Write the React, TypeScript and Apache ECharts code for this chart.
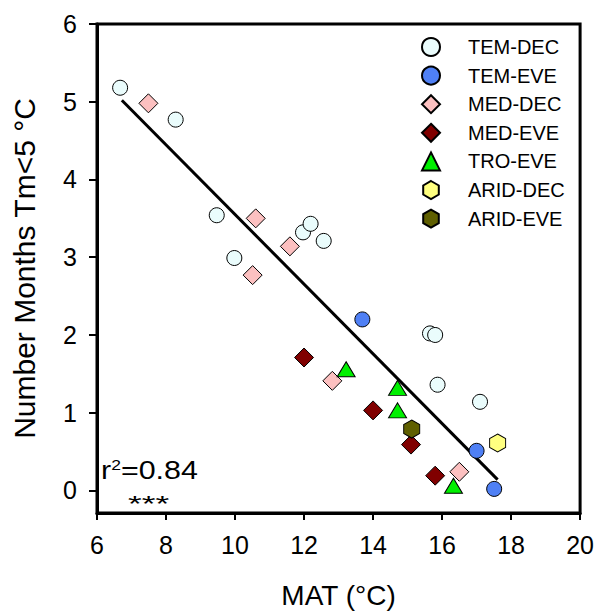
import React, { useEffect, useRef } from "react";
import * as echarts from "echarts";

const temDec: number[][] = [[6.67, 5.18], [8.28, 4.77], [9.47, 3.54], [9.98, 2.99], [11.97, 3.32], [12.19, 3.43], [12.57, 3.21], [15.65, 2.02], [15.8, 2.0], [15.87, 1.36], [17.1, 1.14]];
const temEve: number[][] = [[13.69, 2.2], [17.0, 0.51], [17.51, 0.02]];
const medDec: number[][] = [[7.49, 4.98], [10.6, 3.5], [10.51, 2.77], [11.59, 3.14], [12.82, 1.41], [16.5, 0.24]];
const medEve: number[][] = [[12.0, 1.71], [14.0, 1.03], [15.1, 0.59], [15.8, 0.19]];
const troEve: number[][] = [[13.22, 1.56], [14.71, 1.32], [14.71, 1.03], [16.33, 0.06]];
const aridDec: number[][] = [[17.61, 0.61]];
const aridEve: number[][] = [[15.12, 0.79]];
const fitLine: number[][] = [[6.72, 5.02], [17.61, 0.14]];
const yTicks = [0, 1, 2, 3, 4, 5, 6];
const xTicks = [6, 8, 10, 12, 14, 16, 18, 20];

const hex = "path://M0,-1 L0.866,-0.5 L0.866,0.5 L0,1 L-0.866,0.5 L-0.866,-0.5 Z";
const FONT = "Liberation Sans, Arial, sans-serif";

export default function App() {
  const ref = useRef<HTMLDivElement>(null);
  useEffect(() => {
    if (!ref.current) return;
    const chart = echarts.init(ref.current, null, { renderer: "svg" });
    const sc = (name: string, data: number[][], symbol: string, size: any, color: string) => ({
      name,
      type: "scatter",
      data,
      symbol,
      symbolSize: size,
      itemStyle: { color, borderColor: "#000", borderWidth: 1, opacity: 1 },
      z: 3,
    });
    chart.setOption({
      animation: false,
      grid: { left: 97, top: 24, right: 16, bottom: 102, show: true, borderColor: "#000", borderWidth: 3, backgroundColor: "transparent" },
      xAxis: {
        type: "value",
        min: 6,
        max: 20,
        interval: 2,
        name: "MAT (°C)",
        nameLocation: "middle",
        nameGap: 68,
        nameTextStyle: { fontFamily: FONT, fontSize: 28, color: "#000" },
        axisLine: { onZero: false, lineStyle: { color: "#000", width: 3 } },
        axisTick: { length: 7, lineStyle: { color: "#000", width: 2 } },
        axisLabel: { fontFamily: FONT, fontSize: 25, color: "#000", margin: 19, customValues: xTicks },
        splitLine: { show: false },
      },
      yAxis: {
        type: "value",
        min: -0.29,
        max: 6,
        name: "Number Months Tm<5 °C",
        nameLocation: "middle",
        nameGap: 58,
        nameTextStyle: { fontFamily: FONT, fontSize: 30, color: "#000" },
        axisLine: { onZero: false, lineStyle: { color: "#000", width: 3 } },
        axisTick: { length: 8, lineStyle: { color: "#000", width: 2 }, customValues: yTicks },
        axisLabel: { fontFamily: FONT, fontSize: 25, color: "#000", margin: 20, customValues: yTicks },
        splitLine: { show: false },
      },
      legend: {
        orient: "vertical",
        left: 421,
        top: 37,
        padding: 0,
        itemWidth: 18,
        itemHeight: 18,
        itemGap: 8.6,
        textStyle: { fontFamily: FONT, fontSize: 20, color: "#000", lineHeight: 20, padding: [0, 0, 0, 23] },
        data: ["TEM-DEC", "TEM-EVE", "MED-DEC", "MED-EVE", "TRO-EVE", "ARID-DEC", "ARID-EVE"],
      },
      graphic: [
        {
          type: "text",
          left: 101,
          top: 457,
          style: {
            text: "r{sup|2}=0.84",
            font: "26px Liberation Sans, Arial, sans-serif",
            fill: "#000",
            rich: { sup: { fontSize: 15, verticalAlign: "top", padding: [0, 0, 10, 0], fontFamily: FONT } },
          },
          scaleX: 1.17,
          z: 10,
        },
        {
          type: "text",
          left: 128,
          top: 492,
          style: { text: "***", font: "22px Liberation Sans, Arial, sans-serif", fill: "#000" },
          scaleX: 1.6,
          z: 10,
        },
      ],
      series: [
        {
          name: "fit",
          type: "line",
          data: fitLine,
          symbol: "none",
          lineStyle: { color: "#000", width: 3 },
          z: 2,
        },
        sc("TEM-DEC", temDec, "circle", 15, "#eafcfc"),
        sc("TEM-EVE", temEve, "circle", 15, "#4f80f5"),
        sc("MED-DEC", medDec, "diamond", 19, "#fcc0c0"),
        sc("MED-EVE", medEve, "diamond", 19, "#800000"),
        sc("TRO-EVE", troEve, "triangle", [18, 15], "#00f000"),
        sc("ARID-DEC", aridDec, hex, [16, 18], "#ffff80"),
        sc("ARID-EVE", aridEve, hex, [16, 18], "#5f5f00"),
      ],
    });
    return () => chart.dispose();
  }, []);
  return <div ref={ref} style={{ width: 597, height: 615, position: "absolute", left: 0, top: 0 }} />;
}
